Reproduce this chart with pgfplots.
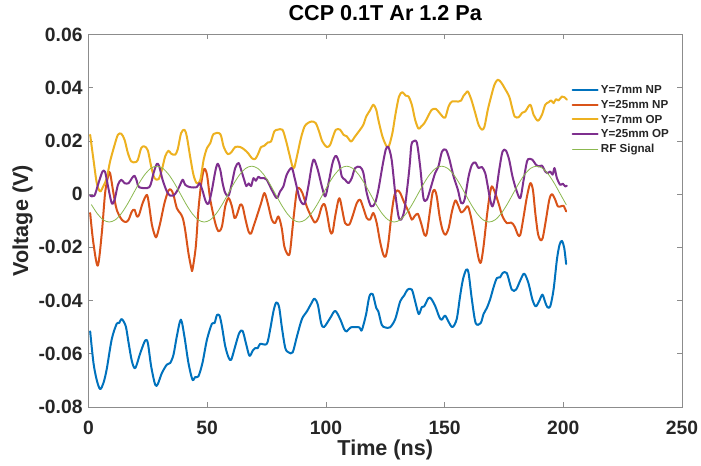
\documentclass[border=0pt]{standalone}
\usepackage{fontspec}
\setmainfont{Liberation Sans}
\usepackage{pgfplots}
\pgfplotsset{compat=1.18}
\definecolor{mBlue}{rgb}{0,0.447,0.741}
\definecolor{mOrange}{rgb}{0.85,0.325,0.098}
\definecolor{mYellow}{rgb}{0.929,0.694,0.125}
\definecolor{mPurple}{rgb}{0.494,0.184,0.556}
\definecolor{mGreen}{rgb}{0.466,0.674,0.188}
\definecolor{axgray}{rgb}{0.55,0.55,0.55}
\definecolor{txt}{rgb}{0.15,0.15,0.15}
\begin{document}
\begin{tikzpicture}
\useasboundingbox (-88.5bp,-59.1bp) rectangle (612.5bp,406.9bp);
\begin{axis}[
  scale only axis, width=593.5bp, height=372.4bp,
  at={(0,0)}, anchor=south west,
  xmin=0, xmax=250, ymin=-0.08, ymax=0.06,
  xtick={0,50,100,150,200,250}, xticklabels={0,50,100,150,200,250},
  ytick={-0.08,-0.06,-0.04,-0.02,0,0.02,0.04,0.06},
  yticklabels={-0.08,-0.06,-0.04,-0.02,0,0.02,0.04,0.06},
  scaled y ticks=false,
  tick align=inside, major tick length=5bp,
  tick style={axgray, line width=0.6bp},
  axis line style={axgray, line width=0.8bp},
  tick label style={font=\fontsize{19.3bp}{23bp}\selectfont\bfseries, text=txt, inner sep=0pt},
  xticklabel style={anchor=north, yshift=-13.5bp},
  yticklabel style={anchor=east, xshift=-5.8bp},
  title={CCP 0.1T Ar 1.2 Pa},
  title style={at={(axis description cs:0.5,1.0228)}, anchor=base, font=\fontsize{21.6bp}{25bp}\selectfont\bfseries, text=black, inner sep=0pt},
  xlabel={Time (ns)},
  xlabel style={at={(axis description cs:0.5,-0.1292)}, anchor=base, font=\fontsize{21.6bp}{25bp}\selectfont\bfseries, text=txt, inner sep=0pt},
  ylabel={Voltage (V)},
  ylabel style={at={(axis description cs:-0.1019,0.5)}, anchor=base, rotate=0, font=\fontsize{21.6bp}{25bp}\selectfont\bfseries, text=txt, inner sep=0pt},
  legend image code/.code={\draw[#1] (0bp,0bp) -- (25bp,0bp);},
  legend cell align=left,
  legend style={draw=none, fill=none, at={(axis cs:203.5,0.04137)}, anchor=north west,
    inner sep=0pt, outer sep=0pt, row sep=3.3bp, /tikz/column sep=1.8bp,
    font=\fontsize{11.6bp}{13bp}\selectfont\bfseries, text=txt,
    nodes={inner sep=0.5bp, text height=9bp, text depth=1.5bp}},
  every axis plot/.append style={line join=round, line cap=round},
]
\addplot[mBlue, line width=2bp, smooth] table[row sep=\\] {
0.7 -0.0516\\ 2.1 -0.0635\\ 3.5 -0.0700\\ 4.9 -0.0733\\ 6.3 -0.0710\\ 7.7 -0.0657\\ 9.8 -0.0545\\ 11.9 -0.0487\\ 12.9 -0.0485\\ 14.0 -0.0470\\
15.7 -0.0497\\ 16.9 -0.0560\\ 18.3 -0.0629\\ 19.7 -0.0654\\ 21.8 -0.0598\\ 23.9 -0.0550\\ 25.0 -0.0560\\ 26.4 -0.0648\\ 28.1 -0.0717\\ 29.2 -0.0714\\
30.9 -0.0673\\ 33.0 -0.0641\\ 34.4 -0.0635\\ 35.8 -0.0604\\ 37.2 -0.0535\\ 38.9 -0.0472\\ 40.4 -0.0535\\ 42.1 -0.0635\\ 43.8 -0.0698\\ 44.9 -0.0688\\
46.3 -0.0685\\ 48.0 -0.0635\\ 49.9 -0.0547\\ 52.0 -0.0487\\ 53.1 -0.0485\\ 54.1 -0.0455\\ 55.2 -0.0457\\ 56.2 -0.0497\\ 57.6 -0.0572\\ 59.0 -0.0614\\
60.1 -0.0623\\ 61.8 -0.0572\\ 63.5 -0.0522\\ 64.9 -0.0514\\ 66.3 -0.0560\\ 67.8 -0.0608\\ 69.2 -0.0588\\ 70.2 -0.0579\\ 71.3 -0.0579\\ 72.3 -0.0563\\
75.1 -0.0563\\ 76.5 -0.0510\\ 77.9 -0.0441\\ 79.1 -0.0407\\ 80.3 -0.0425\\ 81.5 -0.0504\\ 82.9 -0.0579\\ 84.3 -0.0595\\ 86.0 -0.0595\\ 87.8 -0.0535\\
89.9 -0.0470\\ 92.0 -0.0441\\ 93.8 -0.0412\\ 95.2 -0.0393\\ 96.6 -0.0416\\ 98.0 -0.0485\\ 99.2 -0.0500\\ 101.8 -0.0466\\ 103.9 -0.0439\\ 106.0 -0.0470\\
107.7 -0.0508\\ 108.8 -0.0516\\ 110.5 -0.0501\\ 114.1 -0.0501\\ 115.1 -0.0512\\ 116.9 -0.0453\\ 118.3 -0.0385\\ 119.7 -0.0376\\ 121.2 -0.0428\\ 122.1 -0.0441\\
123.5 -0.0491\\ 124.9 -0.0501\\ 127.0 -0.0501\\ 129.2 -0.0470\\ 131.3 -0.0403\\ 133.0 -0.0381\\ 134.4 -0.0359\\ 136.2 -0.0359\\ 137.6 -0.0403\\ 139.1 -0.0451\\
140.4 -0.0425\\ 141.4 -0.0422\\ 143.2 -0.0391\\ 144.3 -0.0393\\ 146.0 -0.0420\\ 147.8 -0.0463\\ 148.8 -0.0472\\ 150.2 -0.0457\\ 151.6 -0.0479\\ 153.3 -0.0500\\
155.1 -0.0470\\ 156.5 -0.0385\\ 157.7 -0.0322\\ 159.1 -0.0284\\ 160.1 -0.0297\\ 161.5 -0.0397\\ 163.1 -0.0485\\ 165.2 -0.0485\\ 166.4 -0.0451\\ 167.8 -0.0428\\
169.2 -0.0395\\ 170.6 -0.0351\\ 172.0 -0.0316\\ 173.4 -0.0313\\ 174.4 -0.0297\\ 176.2 -0.0297\\ 178.3 -0.0359\\ 180.1 -0.0359\\ 181.8 -0.0326\\ 183.5 -0.0299\\
185.3 -0.0334\\ 187.0 -0.0397\\ 188.4 -0.0422\\ 189.8 -0.0403\\ 191.2 -0.0378\\ 192.4 -0.0407\\ 193.3 -0.0425\\ 194.5 -0.0422\\ 195.9 -0.0359\\ 197.3 -0.0247\\
198.4 -0.0191\\ 199.4 -0.0176\\ 200.4 -0.0203\\ 201.2 -0.0263\\
};
\addlegendentry{Y=7mm NP}
\addplot[mOrange, line width=2bp, smooth] table[row sep=\\] {
0.7 -0.0071\\ 2.0 -0.0180\\ 3.9 -0.0269\\ 5.6 -0.0147\\ 7.0 0.0004\\ 8.4 0.0073\\ 9.1 0.0079\\ 10.5 0.0004\\ 11.9 -0.0059\\ 14.0 -0.0096\\
15.7 -0.0105\\ 16.9 -0.0096\\ 18.3 -0.0065\\ 19.4 -0.0059\\ 20.4 -0.0084\\ 21.3 -0.0078\\ 22.8 -0.0034\\ 24.6 -0.0003\\ 25.6 -0.0046\\ 26.7 -0.0115\\
28.1 -0.0159\\ 28.8 -0.0157\\ 30.2 -0.0109\\ 32.0 -0.0034\\ 33.7 0.0014\\ 34.8 0.0016\\ 35.8 -0.0003\\ 37.2 -0.0053\\ 38.6 -0.0071\\ 39.7 -0.0090\\
40.7 -0.0134\\ 42.1 -0.0222\\ 43.3 -0.0278\\ 43.8 -0.0284\\ 45.2 -0.0197\\ 46.3 -0.0059\\ 47.5 0.0041\\ 48.7 0.0094\\ 49.9 0.0073\\ 51.3 -0.0021\\
53.4 -0.0109\\ 54.8 -0.0140\\ 56.2 -0.0122\\ 57.6 -0.0046\\ 59.0 -0.0015\\ 60.4 -0.0046\\ 61.5 -0.0090\\ 62.5 -0.0078\\ 63.9 -0.0040\\ 64.9 -0.0046\\
66.0 -0.0090\\ 67.4 -0.0140\\ 68.4 -0.0149\\ 69.5 -0.0122\\ 70.9 -0.0084\\ 72.7 -0.0034\\ 74.1 0.0004\\ 75.5 -0.0034\\ 77.2 -0.0096\\ 78.6 -0.0109\\
80.0 -0.0084\\ 81.4 -0.0128\\ 82.5 -0.0197\\ 84.0 -0.0228\\ 84.9 -0.0216\\ 86.3 -0.0096\\ 87.7 0.0010\\ 88.7 0.0023\\ 90.1 0.0004\\ 91.9 -0.0046\\
93.8 -0.0084\\ 95.4 -0.0107\\ 96.8 -0.0090\\ 98.3 -0.0046\\ 99.4 -0.0038\\ 100.4 -0.0071\\ 101.8 -0.0140\\ 102.8 -0.0144\\ 103.9 -0.0084\\ 105.3 -0.0021\\
106.0 -0.0021\\ 107.0 -0.0065\\ 108.1 -0.0109\\ 109.8 -0.0115\\ 111.2 -0.0084\\ 113.0 -0.0034\\ 114.4 -0.0021\\ 115.8 -0.0053\\ 117.2 -0.0090\\ 118.6 -0.0096\\
120.0 -0.0071\\ 121.4 -0.0109\\ 122.8 -0.0178\\ 124.2 -0.0228\\ 125.2 -0.0234\\ 126.3 -0.0184\\ 127.7 -0.0071\\ 128.9 -0.0003\\ 130.1 0.0014\\ 131.3 0.0004\\
133.1 -0.0034\\ 134.8 -0.0065\\ 136.2 -0.0096\\ 137.3 -0.0084\\ 138.7 -0.0074\\ 140.1 -0.0109\\ 141.5 -0.0153\\ 142.5 -0.0147\\ 143.9 -0.0059\\ 144.9 0.0004\\
145.8 0.0016\\ 146.7 -0.0009\\ 147.9 -0.0084\\ 149.1 -0.0134\\ 150.3 -0.0153\\ 151.7 -0.0128\\ 153.1 -0.0065\\ 154.5 -0.0024\\ 155.6 -0.0040\\ 157.0 -0.0069\\
158.4 -0.0059\\ 159.8 -0.0046\\ 161.2 -0.0090\\ 162.9 -0.0172\\ 164.3 -0.0241\\ 165.3 -0.0257\\ 166.4 -0.0197\\ 167.8 -0.0084\\ 168.9 -0.0009\\ 169.9 0.0029\\
171.3 0.0004\\ 172.7 -0.0034\\ 174.4 -0.0084\\ 176.2 -0.0109\\ 178.1 -0.0107\\ 179.5 -0.0122\\ 180.9 -0.0153\\ 181.9 -0.0153\\ 183.3 -0.0084\\ 184.7 -0.0009\\
186.1 0.0041\\ 187.2 0.0016\\ 188.2 -0.0071\\ 189.3 -0.0147\\ 190.3 -0.0172\\ 191.3 -0.0166\\ 192.7 -0.0096\\ 194.1 -0.0021\\ 195.2 0.0000\\ 196.6 -0.0021\\
197.7 -0.0046\\ 199.0 -0.0046\\ 200.1 -0.0044\\ 201.2 -0.0065\\
};
\addlegendentry{Y=25mm NP}
\addplot[mYellow, line width=2bp, smooth] table[row sep=\\] {
0.7 0.0223\\ 2.1 0.0129\\ 3.5 0.0041\\ 4.9 0.0010\\ 6.3 0.0031\\ 7.7 0.0060\\ 9.1 0.0123\\ 11.0 0.0185\\ 12.4 0.0223\\ 13.8 0.0227\\
15.2 0.0204\\ 16.6 0.0154\\ 18.0 0.0123\\ 19.7 0.0120\\ 20.8 0.0129\\ 22.2 0.0173\\ 23.6 0.0179\\ 25.0 0.0164\\ 26.4 0.0104\\ 27.8 0.0060\\
29.5 0.0056\\ 30.9 0.0091\\ 32.3 0.0142\\ 33.7 0.0163\\ 34.8 0.0152\\ 36.5 0.0148\\ 37.6 0.0169\\ 39.0 0.0229\\ 40.4 0.0242\\ 41.4 0.0217\\
42.8 0.0142\\ 44.2 0.0073\\ 45.6 0.0041\\ 47.1 0.0054\\ 48.5 0.0129\\ 49.9 0.0173\\ 51.3 0.0192\\ 52.7 0.0226\\ 55.5 0.0226\\ 56.9 0.0179\\
58.7 0.0150\\ 60.4 0.0160\\ 61.8 0.0177\\ 63.9 0.0177\\ 65.7 0.0167\\ 67.4 0.0152\\ 68.8 0.0135\\ 70.2 0.0132\\ 71.3 0.0148\\ 72.7 0.0177\\
74.1 0.0182\\ 75.5 0.0194\\ 76.9 0.0198\\ 78.3 0.0236\\ 79.7 0.0242\\ 81.7 0.0242\\ 83.1 0.0204\\ 84.5 0.0154\\ 85.9 0.0104\\ 86.7 0.0100\\
88.1 0.0154\\ 89.5 0.0211\\ 91.0 0.0254\\ 92.4 0.0267\\ 94.0 0.0273\\ 95.7 0.0267\\ 97.1 0.0236\\ 98.5 0.0198\\ 100.4 0.0177\\ 101.8 0.0185\\
102.8 0.0211\\ 104.2 0.0242\\ 106.0 0.0242\\ 107.4 0.0223\\ 108.8 0.0217\\ 110.6 0.0198\\ 112.3 0.0217\\ 114.4 0.0242\\ 115.8 0.0261\\ 117.0 0.0292\\
118.6 0.0315\\ 120.0 0.0336\\ 121.2 0.0317\\ 122.1 0.0279\\ 123.8 0.0217\\ 125.6 0.0179\\ 126.6 0.0182\\ 128.0 0.0229\\ 129.4 0.0305\\ 130.8 0.0367\\
132.2 0.0383\\ 133.6 0.0370\\ 134.8 0.0367\\ 136.2 0.0336\\ 137.6 0.0279\\ 139.0 0.0246\\ 140.1 0.0254\\ 141.5 0.0267\\ 143.0 0.0292\\ 144.6 0.0317\\
146.3 0.0320\\ 147.7 0.0307\\ 149.1 0.0292\\ 150.3 0.0288\\ 151.7 0.0330\\ 153.1 0.0348\\ 155.9 0.0348\\ 157.0 0.0352\\ 158.0 0.0370\\ 159.0 0.0380\\
159.8 0.0386\\ 161.2 0.0357\\ 162.9 0.0305\\ 164.3 0.0261\\ 165.7 0.0242\\ 166.8 0.0254\\ 168.2 0.0317\\ 169.6 0.0367\\ 171.0 0.0411\\ 172.4 0.0430\\
173.8 0.0420\\ 175.3 0.0398\\ 177.2 0.0367\\ 178.3 0.0330\\ 179.5 0.0292\\ 181.2 0.0289\\ 182.6 0.0305\\ 184.0 0.0311\\ 186.1 0.0336\\ 187.5 0.0298\\
189.3 0.0276\\ 191.0 0.0298\\ 192.4 0.0336\\ 193.8 0.0345\\ 194.9 0.0352\\ 195.9 0.0342\\ 196.9 0.0357\\ 198.0 0.0352\\ 199.4 0.0367\\ 200.5 0.0364\\
201.5 0.0355\\
};
\addlegendentry{Y=7mm OP}
\addplot[mPurple, line width=2bp, smooth] table[row sep=\\] {
0.7 -0.0006\\ 2.5 -0.0006\\ 4.2 0.0041\\ 5.9 0.0085\\ 7.0 0.0083\\ 8.1 0.0035\\ 9.8 -0.0034\\ 11.0 -0.0021\\ 12.4 0.0035\\ 13.8 0.0054\\
15.2 0.0041\\ 16.9 0.0041\\ 18.3 0.0060\\ 19.4 0.0069\\ 20.4 0.0048\\ 21.3 0.0026\\ 25.6 0.0026\\ 27.4 0.0079\\ 28.8 0.0114\\ 29.8 0.0104\\
31.2 0.0054\\ 33.0 0.0010\\ 34.4 -0.0006\\ 35.8 -0.0006\\ 37.2 0.0010\\ 38.3 0.0029\\ 39.7 0.0054\\ 40.7 0.0035\\ 42.8 0.0026\\ 45.6 0.0026\\
46.8 0.0041\\ 48.0 0.0014\\ 49.4 -0.0028\\ 50.6 -0.0036\\ 52.0 0.0016\\ 53.4 0.0085\\ 54.4 0.0114\\ 55.5 0.0091\\ 56.5 0.0041\\ 57.6 0.0004\\
59.0 -0.0006\\ 60.4 0.0041\\ 61.8 0.0098\\ 63.2 0.0117\\ 64.3 0.0091\\ 65.7 0.0050\\ 66.5 0.0030\\ 67.5 0.0040\\ 68.5 0.0030\\ 69.5 0.0060\\
70.5 0.0050\\ 71.5 0.0065\\ 72.5 0.0060\\ 74.0 0.0060\\ 75.1 0.0054\\ 77.2 0.0016\\ 79.3 -0.0015\\ 80.7 0.0010\\ 82.1 0.0029\\ 83.5 0.0073\\
85.6 0.0098\\ 87.0 0.0054\\ 89.1 -0.0021\\ 91.0 -0.0036\\ 92.6 0.0029\\ 94.0 0.0104\\ 95.0 0.0130\\ 96.6 0.0091\\ 98.3 0.0029\\ 99.7 -0.0009\\
101.1 0.0041\\ 102.8 0.0117\\ 104.2 0.0144\\ 105.6 0.0117\\ 106.7 0.0066\\ 108.1 0.0054\\ 109.5 0.0041\\ 110.9 0.0060\\ 112.3 0.0098\\ 114.4 0.0102\\
115.8 0.0079\\ 117.2 0.0004\\ 119.0 -0.0046\\ 120.7 -0.0034\\ 122.1 0.0016\\ 123.8 0.0104\\ 125.2 0.0167\\ 126.3 0.0177\\ 127.7 0.0129\\ 129.2 0.0004\\
130.6 -0.0084\\ 131.7 -0.0096\\ 133.1 -0.0059\\ 134.5 0.0041\\ 135.3 0.0110\\ 136.0 0.0185\\ 136.8 0.0198\\ 138.3 0.0194\\ 139.7 0.0104\\ 141.1 -0.0015\\
142.5 -0.0021\\ 143.9 0.0016\\ 146.0 0.0079\\ 147.4 0.0104\\ 148.9 0.0160\\ 150.5 0.0167\\ 151.9 0.0135\\ 153.8 0.0066\\ 155.6 0.0016\\ 157.0 -0.0034\\
158.4 -0.0021\\ 160.1 0.0066\\ 161.5 0.0110\\ 162.9 0.0119\\ 164.3 0.0098\\ 165.7 0.0102\\ 167.1 0.0079\\ 168.2 0.0029\\ 169.2 -0.0021\\ 170.2 -0.0046\\
171.6 0.0004\\ 173.0 0.0091\\ 174.4 0.0160\\ 175.8 0.0164\\ 177.2 0.0129\\ 178.6 0.0066\\ 180.4 0.0010\\ 181.9 -0.0015\\ 183.3 0.0054\\ 184.7 0.0123\\
185.6 0.0132\\ 187.0 0.0129\\ 188.5 0.0110\\ 189.6 0.0104\\ 191.0 0.0107\\ 192.4 0.0085\\ 193.5 0.0079\\ 194.5 0.0085\\ 195.5 0.0073\\ 196.3 0.0098\\
197.3 0.0060\\ 198.7 0.0035\\ 199.8 0.0039\\ 200.8 0.0029\\ 201.5 0.0031\\
};
\addlegendentry{Y=25mm OP}
\addplot[mGreen!85!white, line width=0.8bp, smooth] table[row sep=\\] {
1.25 -0.0040\\ 3.75 -0.0074\\ 6.25 -0.0097\\ 8.75 -0.0105\\ 11.25 -0.0097\\ 13.75 -0.0074\\ 16.25 -0.0040\\ 18.75 0.0000\\
21.25 0.0040\\ 23.75 0.0074\\ 26.25 0.0097\\ 28.75 0.0105\\ 31.25 0.0097\\ 33.75 0.0074\\ 36.25 0.0040\\ 38.75 0.0000\\
41.25 -0.0040\\ 43.75 -0.0074\\ 46.25 -0.0097\\ 48.75 -0.0105\\ 51.25 -0.0097\\ 53.75 -0.0074\\ 56.25 -0.0040\\ 58.75 0.0000\\
61.25 0.0040\\ 63.75 0.0074\\ 66.25 0.0097\\ 68.75 0.0105\\ 71.25 0.0097\\ 73.75 0.0074\\ 76.25 0.0040\\ 78.75 0.0000\\
81.25 -0.0040\\ 83.75 -0.0074\\ 86.25 -0.0097\\ 88.75 -0.0105\\ 91.25 -0.0097\\ 93.75 -0.0074\\ 96.25 -0.0040\\ 98.75 0.0000\\
101.25 0.0040\\ 103.75 0.0074\\ 106.25 0.0097\\ 108.75 0.0105\\ 111.25 0.0097\\ 113.75 0.0074\\ 116.25 0.0040\\ 118.75 0.0000\\
121.25 -0.0040\\ 123.75 -0.0074\\ 126.25 -0.0097\\ 128.75 -0.0105\\ 131.25 -0.0097\\ 133.75 -0.0074\\ 136.25 -0.0040\\ 138.75 0.0000\\
141.25 0.0040\\ 143.75 0.0074\\ 146.25 0.0097\\ 148.75 0.0105\\ 151.25 0.0097\\ 153.75 0.0074\\ 156.25 0.0040\\ 158.75 0.0000\\
161.25 -0.0040\\ 163.75 -0.0074\\ 166.25 -0.0097\\ 168.75 -0.0105\\ 171.25 -0.0097\\ 173.75 -0.0074\\ 176.25 -0.0040\\ 178.75 0.0000\\
181.25 0.0040\\ 183.75 0.0074\\ 186.25 0.0097\\ 188.75 0.0105\\ 191.25 0.0097\\ 193.75 0.0074\\ 196.25 0.0040\\ 198.75 0.0000\\
201.25 -0.0040\\
};
\addlegendentry{RF Signal}
\end{axis}
\end{tikzpicture}
\end{document}
